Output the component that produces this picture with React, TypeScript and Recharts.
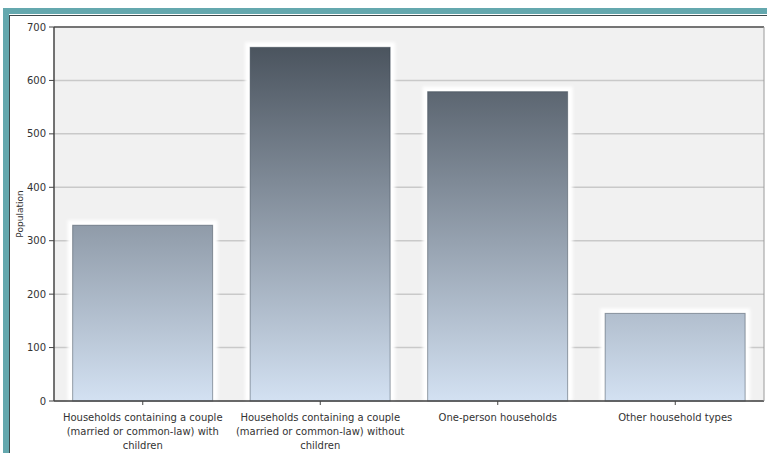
import { BarChart, Bar, XAxis, YAxis, CartesianGrid, ReferenceLine } from 'recharts';

const categories = [
  'Households containing a couple (married or common-law) with children',
  'Households containing a couple (married or common-law) without children',
  'One-person households',
  'Other household types',
];
const population = [329, 662, 579, 164];
const yTicks = [0, 100, 200, 300, 400, 500, 600, 700];

const data = categories.map((name, i) => ({ name, value: population[i] }));

const FONT = '"DejaVu Sans", Verdana, sans-serif';
const FONT_SIZE = 10;
const TEAL = '#64a8ae';
const LABEL_WIDTH = 172;

let measureCtx: CanvasRenderingContext2D | null = null;
function textWidth(s: string) {
  if (!measureCtx) {
    measureCtx = document.createElement('canvas').getContext('2d');
    if (measureCtx) measureCtx.font = `${FONT_SIZE}px ${FONT}`;
  }
  return measureCtx ? measureCtx.measureText(s).width : s.length * 5.8;
}

// greedy word wrap for the category labels
function wrap(label: string, max: number) {
  const lines: string[] = [];
  let cur = '';
  for (const word of label.split(' ')) {
    const next = cur ? `${cur} ${word}` : word;
    if (cur && textWidth(next) > max) {
      lines.push(cur);
      cur = word;
    } else {
      cur = next;
    }
  }
  if (cur) lines.push(cur);
  return lines;
}

// bar with a soft white halo around the gradient body
function GlowBar(props: any) {
  const { x, y, width, height } = props;
  if (!height || height <= 0) return null;
  return (
    <g>
      <rect x={x - 5} y={y - 5} width={width + 10} height={height + 5} fill="#ffffff" filter="url(#halo)" />
      <rect x={x} y={y} width={width} height={height} fill="url(#barFill)" stroke="#2c3a48" strokeOpacity={0.45} strokeWidth={1} />
    </g>
  );
}

function CategoryTick(props: any) {
  const { x, y, payload } = props;
  const lines = wrap(payload.value, LABEL_WIDTH);
  return (
    <text x={x} y={y} textAnchor="middle" fontSize={FONT_SIZE} fontFamily={FONT} fill="#333">
      {lines.map((line, i) => (
        <tspan key={i} x={x} dy={i === 0 ? 14 : 14}>
          {line}
        </tspan>
      ))}
    </text>
  );
}

export default function App() {
  return (
    <div style={{ position: 'absolute', left: 0, top: 0, width: 767, height: 453, background: '#fff', overflow: 'hidden' }}>
      {/* teal frame */}
      <div style={{ position: 'absolute', left: 3, top: 8, width: 764, height: 6, background: TEAL }} />
      <div style={{ position: 'absolute', left: 3, top: 8, width: 6, height: 445, background: TEAL }} />
      <div style={{ position: 'absolute', left: 9, top: 15, width: 758, height: 1, background: '#3d4a4c' }} />
      <div style={{ position: 'absolute', left: 9, top: 15, width: 1, height: 438, background: '#3d4a4c' }} />
      <div style={{ position: 'absolute', left: 0, top: 0 }}>
        <BarChart
          width={767}
          height={453}
          data={data}
          margin={{ top: 27, right: 0, bottom: 2, left: 24 }}
          barCategoryGap="10.5%"
        >
          <defs>
            <linearGradient id="barFill" gradientUnits="userSpaceOnUse" x1="0" y1="27" x2="0" y2="401">
              <stop offset="0%" stopColor="#434c56" />
              <stop offset="100%" stopColor="#d3e1f2" />
            </linearGradient>
            <filter id="halo" x="-20%" y="-20%" width="140%" height="140%">
              <feGaussianBlur stdDeviation="1.5" />
            </filter>
          </defs>
          <CartesianGrid vertical={false} stroke="#c9c9c9" strokeWidth={1.5} fill="#f1f1f1" />
          <XAxis
            dataKey="name"
            interval={0}
            height={50}
            tick={<CategoryTick />}
            tickSize={4}
            axisLine={{ stroke: '#444', strokeWidth: 1.5 }}
            tickLine={{ stroke: '#444' }}
          />
          <YAxis
            domain={[0, 700]}
            ticks={yTicks}
            width={30}
            tickSize={5}
            tickMargin={3}
            axisLine={{ stroke: '#444', strokeWidth: 1.5 }}
            tickLine={{ stroke: '#444' }}
            tick={{ fontSize: FONT_SIZE, fontFamily: FONT, fill: '#333' }}
            label={{
              value: 'Population',
              angle: -90,
              position: 'insideLeft',
              offset: -4,
              style: { fontSize: 9, fontFamily: FONT, fill: '#333', textAnchor: 'middle' },
            }}
          />
          <YAxis
            yAxisId="edge"
            orientation="right"
            width={3}
            tick={false}
            tickLine={false}
            axisLine={{ stroke: '#9a9a9a' }}
          />
          <ReferenceLine y={700} stroke="#555" strokeWidth={1.5} />
          <Bar dataKey="value" shape={<GlowBar />} isAnimationActive={false} />
        </BarChart>
      </div>
    </div>
  );
}
